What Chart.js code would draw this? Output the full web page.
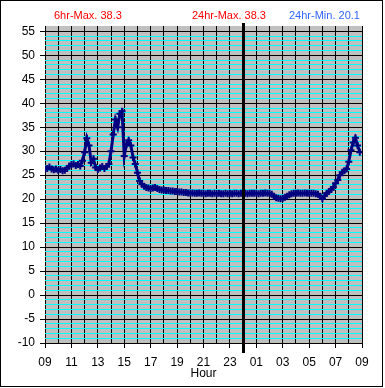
<!DOCTYPE html>
<html><head><meta charset="utf-8">
<script src="https://cdn.jsdelivr.net/npm/chart.js@4.4.1/dist/chart.umd.min.js"></script>
<style>
html,body{margin:0;padding:0;background:#fff;}
#wrap{position:relative;width:385px;height:388px;overflow:hidden;}
canvas{position:absolute;left:0;top:0;}
.hdr{position:absolute;top:8px;font-family:"Liberation Sans",Arial,sans-serif;font-size:11px;line-height:15px;white-space:nowrap;}
</style></head><body>
<div id="wrap">
<canvas id="c" width="385" height="388"></canvas>
<span class="hdr" id="h0" style="left:54px;color:#ff0000"></span>
<span class="hdr" id="h1" style="left:192px;color:#ff0000"></span>
<span class="hdr" id="h2" style="left:289px;color:#3366ff"></span>
</div>
<script>
// ---- data ----
const headerTexts = ['6hr-Max. 38.3', '24hr-Max. 38.3', '24hr-Min. 20.1'];
const startHour = 9;
const stepMinutes = 10;
// temperatures every 10 minutes from 09:00 to 08:50 next day
const temps = [
  26.3, 26.4, 26.7, 26.3, 26.1, 26.3,   // 09
  26.0, 26.2, 25.9, 26.0, 26.4, 26.9,   // 10
  27.2, 27.3, 27.0, 27.2, 26.9, 28.0,   // 11
  29.8, 32.7, 31.2, 27.6, 28.4, 26.6,   // 12
  26.2, 26.5, 26.8, 26.4, 26.8, 27.3,   // 13
  30.0, 33.5, 36.6, 35.0, 37.8, 38.3,   // 14
  29.0, 31.4, 32.3, 31.2, 28.7, 27.3,   // 15
  25.5, 23.8, 23.1, 22.7, 22.4, 22.3,   // 16
  22.2, 22.3, 22.4, 22.2, 22.0, 21.9,   // 17
  21.9, 21.8, 21.8, 21.7, 21.7, 21.6,   // 18
  21.6, 21.5, 21.5, 21.4, 21.4, 21.3,   // 19
  21.3, 21.3, 21.2, 21.2, 21.3, 21.2,   // 20
  21.2, 21.1, 21.2, 21.2, 21.1, 21.2,   // 21
  21.1, 21.2, 21.1, 21.1, 21.2, 21.1,   // 22
  21.2, 21.1, 21.2, 21.2, 21.1, 21.2,   // 23
  21.1, 21.2, 21.1, 21.2, 21.2, 21.2,   // 00
  21.2, 21.1, 21.2, 21.2, 21.3, 21.2,   // 01
  21.2, 21.0, 20.6, 20.3, 20.2, 20.1,   // 02
  20.2, 20.4, 20.6, 20.9, 21.1, 21.2,   // 03
  21.2, 21.3, 21.2, 21.2, 21.3, 21.2,   // 04
  21.2, 21.2, 21.2, 21.1, 21.0, 20.6,   // 05
  20.1, 20.7, 21.2, 21.6, 22.0, 22.5,   // 06
  23.3, 24.0, 25.0, 25.6, 25.9, 26.3,   // 07
  27.8, 30.2, 31.8, 32.8, 31.2, 29.8    // 08
];
const hourLabels = ['09','11','13','15','17','19','21','23','01','03','05','07','09'];
const yMajorTicks = [-10,-5,0,5,10,15,20,25,30,35,40,45,50,55];
const yMin = -10, yMax = 56.1;
const xMin = 0, xMax = 24;
const midnightOffset = 15; // hours after 09:00

headerTexts.forEach((t,i)=>{ document.getElementById('h'+i).textContent = t; });

const yGrid = [];
for (let v = yMajorTicks[0]; v <= yMajorTicks[yMajorTicks.length-1]; v++) yGrid.push(v);
const xGrid = [];
for (let h = xMin; h <= xMax; h++) xGrid.push(h);

const FONT = '"Liberation Sans", Arial, sans-serif';

const decor = {
  id: 'decor',
  beforeDraw(chart) {
    const {ctx, chartArea: a} = chart;
    ctx.save();
    ctx.fillStyle = '#c0c0c0';
    ctx.fillRect(a.left, a.top, a.right - a.left, a.bottom - a.top);
    ctx.restore();
  },
  afterDraw(chart) {
    const {ctx, chartArea: a, scales} = chart;
    const px = Math.round(scales.x.getPixelForValue(midnightOffset));
    ctx.save();
    ctx.fillStyle = '#000';
    ctx.fillRect(px - 1, a.top - 3, 3, (a.bottom + 10) - (a.top - 3));
    ctx.strokeStyle = '#000';
    ctx.lineWidth = 1;
    ctx.strokeRect(0.5, 0.5, 382, 386);
    ctx.restore();
  }
};

new Chart(document.getElementById('c'), {
  type: 'line',
  data: {
    datasets: [{
      data: temps.map((t, i) => ({x: i * stepMinutes / 60, y: t})),
      borderColor: '#000080',
      backgroundColor: '#000080',
      borderWidth: 3,
      pointStyle: 'cross',
      pointRadius: 3.5,
      pointBorderWidth: 2,
      pointBorderColor: '#000080',
      tension: 0
    }]
  },
  options: {
    responsive: false,
    animation: false,
    devicePixelRatio: 1,
    layout: {padding: {left: 0, right: 23, top: 26, bottom: 0}},
    plugins: {legend: {display: false}, tooltip: {enabled: false}, title: {display: false}},
    scales: {
      x: {
        type: 'linear', min: xMin, max: xMax, z: 0,
        afterBuildTicks(s) { s.ticks = xGrid.map(v => ({value: v})); },
        afterFit(s) { s.height = 45; },
        ticks: {
          autoSkip: false, maxRotation: 0, padding: 7, color: '#000',
          font: {family: FONT, size: 12},
          callback: v => (v % 2 === 0 ? hourLabels[v / 2] : '')
        },
        grid: {
          color: '#000', lineWidth: 1, tickLength: 5,
          tickColor: c => (c.tick && c.tick.value % 2 === 0 ? '#000' : 'rgba(0,0,0,0)')
        },
        border: {display: false},
        title: {display: true, text: 'Hour', color: '#000', font: {family: FONT, size: 12}, padding: {top: 0, bottom: 7}}
      },
      y: {
        type: 'linear', min: yMin, max: yMax, z: -1,
        afterBuildTicks(s) { s.ticks = yGrid.map(v => ({value: v})); },
        afterFit(s) { s.width = 45; },
        ticks: {
          autoSkip: false, padding: 5, color: '#000',
          font: {family: FONT, size: 12},
          callback: v => (yMajorTicks.includes(v) ? String(v) : '')
        },
        grid: {
          lineWidth: 1, tickLength: 5,
          color: c => (c.tick && yMajorTicks.includes(c.tick.value) ? '#000' : '#00ffff'),
          tickColor: c => (c.tick && yMajorTicks.includes(c.tick.value) ? '#000' : 'rgba(0,0,0,0)')
        },
        border: {display: false}
      }
    }
  },
  plugins: [decor]
});
</script>
</body></html>
